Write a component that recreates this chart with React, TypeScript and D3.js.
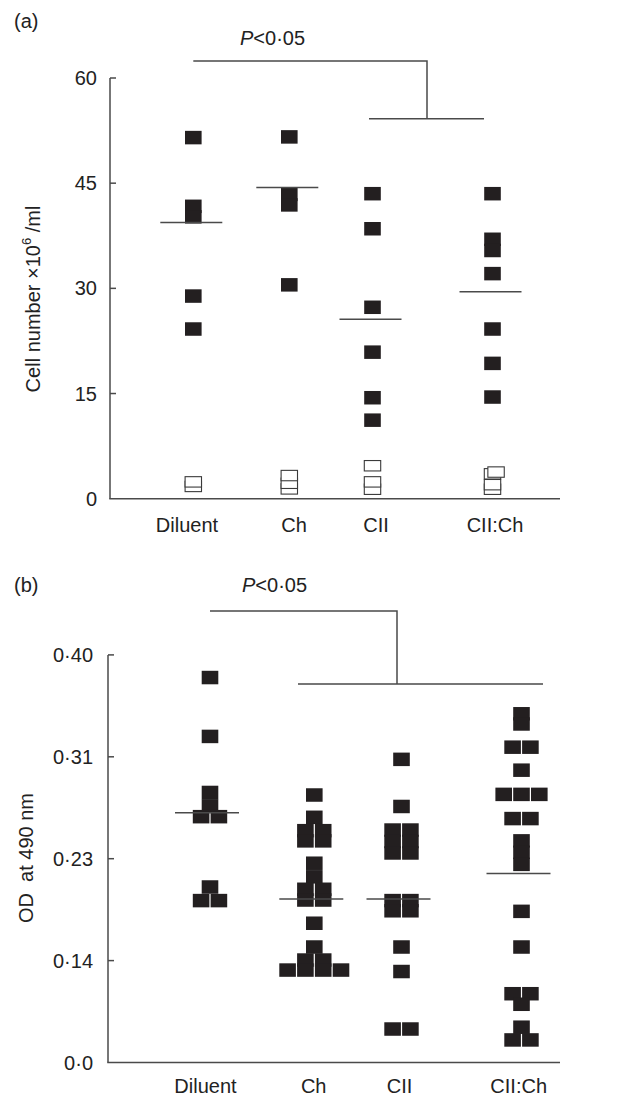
import * as d3 from 'd3';

// groups on both panels
const groups = ['Diluent', 'Ch', 'CII', 'CII:Ch'];

// (a) cell number x10^6/ml
const cellTicks = [0, 15, 30, 45, 60];
const cellFilled = [
  [51.5, 41.7, 40.2, 28.9, 24.2],
  [51.6, 43.4, 41.9, 30.5],
  [43.5, 38.5, 27.3, 20.9, 14.4, 11.2],
  [43.5, 37.0, 35.4, 32.1, 24.2, 19.3, 14.5],
];
const cellOpen = [
  [1.75, 2.4],
  [1.4, 2.2, 3.3],
  [1.35, 2.4, 4.7],
  [1.35, 2.0, 3.55, 3.8],
];
const cellOpenShift = [[0, 0], [0, 0, 0], [0, 0, 0], [0, 0, 0, 0.2]];
const cellMean = [39.4, 44.4, 25.6, 29.5];

// (b) OD at 490 nm
const odTicks = [0, 0.14, 0.23, 0.31, 0.4];
const odTickLabels = ['0·0', '0·14', '0·23', '0·31', '0·40'];
const odValues = [
  [0.38, 0.328, 0.282, 0.2715, 0.263, 0.263, 0.205, 0.193, 0.193],
  [0.28, 0.2625, 0.252, 0.252, 0.244, 0.244, 0.226, 0.214, 0.203, 0.203, 0.1935, 0.1935,
    0.173, 0.152, 0.1405, 0.1405, 0.127, 0.127, 0.127, 0.127],
  [0.308, 0.271, 0.2525, 0.2525, 0.2435, 0.2435, 0.2345, 0.2345, 0.193, 0.193, 0.184, 0.184,
    0.152, 0.125, 0.046, 0.046],
  [0.348, 0.339, 0.3185, 0.3185, 0.2995, 0.2805, 0.2805, 0.2805, 0.2615, 0.2615, 0.244, 0.235,
    0.225, 0.1835, 0.152, 0.0945, 0.0945, 0.08, 0.0485, 0.031, 0.031],
];
const odCols = [
  [0, 0, 0, 0, -0.5, 0.5, 0, -0.5, 0.5],
  [0, 0, -0.5, 0.5, -0.5, 0.5, 0, 0, -0.5, 0.5, -0.5, 0.5, 0, 0, -0.5, 0.5, -1.5, -0.5, 0.5, 1.5],
  [0, 0, -0.5, 0.5, -0.5, 0.5, -0.5, 0.5, -0.5, 0.5, -0.5, 0.5, 0, 0, -0.5, 0.5],
  [0, 0, -0.5, 0.5, 0, -1, 0, 1, -0.5, 0.5, 0, 0, 0, 0, 0, -0.5, 0.5, 0, 0, -0.5, 0.5],
];
const odMean = [0.266, 0.1945, 0.1945, 0.217];

const W = 621;
const H = 1098;
const FONT = '"Liberation Sans", Arial, Helvetica, sans-serif';
const INK = '#231f20';
const LINE = '#4a4a4a';
const SQ_W = 16.6;
const SQ_H = 13.5;
const COL = 17.8;
const OPEN_W = 16.4;
const OPEN_H = 10.4;
const FS = 20;

const YAxis = ({ y, ticks, labels, x0, x1, labelX }) => (
  <g>
    <line x1={x0} x2={x0} y1={y(ticks[ticks.length - 1])} y2={y(ticks[0])} stroke={LINE} strokeWidth={1.5} />
    <line x1={x0 - 0.75} x2={x1} y1={y(ticks[0])} y2={y(ticks[0])} stroke={LINE} strokeWidth={1.5} />
    {ticks.map((t, i) => (
      <g key={i}>
        {i > 0 && <line x1={x0} x2={x0 + 6} y1={y(t)} y2={y(t)} stroke={LINE} strokeWidth={1.5} />}
        <text x={labelX} y={y(t)} textAnchor="end" dominantBaseline="central" fontSize={FS} fill="#222">
          {labels[i]}
        </text>
      </g>
    ))}
  </g>
);

const Bracket = ({ xl, xv, yTop, yLow, lx0, lx1 }) => (
  <path
    d={`M${xl},${yTop}H${xv}V${yLow}M${lx0},${yLow}H${lx1}`}
    fill="none"
    stroke={LINE}
    strokeWidth={1.5}
  />
);

export default function App() {
  // panel (a)
  const xa = d3.scaleOrdinal<string, number>().domain(groups).range([193.3, 289.3, 372.5, 492.5]);
  const xaLabel = d3.scaleOrdinal<string, number>().domain(groups).range([187, 294, 376, 495]);
  const ya = d3.scaleLinear().domain([0, 60]).range([498.7, 78]);
  // panel (b): ticks are evenly spaced although their labels are not
  const yb0 = 1062.5;
  const ybStep = 101.9;
  const xb = d3.scaleOrdinal<string, number>().domain(groups).range([210, 314.3, 401.5, 521.5]);
  const xbLabel = d3.scaleOrdinal<string, number>().domain(groups).range([205.5, 313.7, 399.5, 518.7]);
  const yb = d3.scaleLinear().domain(odTicks).range(odTicks.map((_, i) => yb0 - i * ybStep));

  return (
    <svg width={W} height={H} style={{ position: 'absolute', left: 0, top: 0 }} fontFamily={FONT}>
      <rect width={W} height={H} fill="#fff" />

      {/* ---------- (a) ---------- */}
      <text x={14} y={28} fontSize={FS} fill="#222">(a)</text>
      <text x={240} y={45} fontSize={FS} fill="#222">
        <tspan fontStyle="italic">P</tspan>&lt;0·05
      </text>
      <Bracket xl={xa('Diluent')} xv={427} yTop={61} yLow={ya(54.2)} lx0={xa('CII') - 3.5} lx1={xa('CII:Ch') - 8.5} />
      <YAxis y={ya} ticks={cellTicks} labels={cellTicks.map(String)} x0={110} x1={560} labelX={97} />
      <text
        transform={`translate(33,299) rotate(-90)`}
        textAnchor="middle"
        dominantBaseline="central"
        fontSize={FS}
        fill="#222"
      >
        Cell number ×10<tspan dy={-7} fontSize={13}>6</tspan><tspan dy={7}> /ml</tspan>
      </text>
      {groups.map((g, gi) => (
        <g key={g}>
          {cellOpen[gi].map((v, i) => (
            <rect
              key={'o' + i}
              x={xa(g) + cellOpenShift[gi][i] * COL - OPEN_W / 2}
              y={ya(v) - OPEN_H / 2}
              width={OPEN_W}
              height={OPEN_H}
              fill="#fff"
              stroke="#3a3a3a"
              strokeWidth={1.1}
            />
          ))}
          {cellFilled[gi].map((v, i) => (
            <rect key={'f' + i} x={xa(g) - SQ_W / 2} y={ya(v) - SQ_H / 2} width={SQ_W} height={SQ_H} fill={INK} />
          ))}
          <line x1={xa(g) - 33} x2={xa(g) + 29} y1={ya(cellMean[gi])} y2={ya(cellMean[gi])} stroke={LINE} strokeWidth={1.5} />
          <text x={xaLabel(g)} y={532} textAnchor="middle" fontSize={FS} fill="#222">{g}</text>
        </g>
      ))}

      {/* ---------- (b) ---------- */}
      <text x={14} y={592} fontSize={FS} fill="#222">(b)</text>
      <text x={242} y={592} fontSize={FS} fill="#222">
        <tspan fontStyle="italic">P</tspan>&lt;0·05
      </text>
      <Bracket xl={xb('Diluent')} xv={397} yTop={611} yLow={684} lx0={298} lx1={543} />
      <YAxis y={yb} ticks={odTicks} labels={odTickLabels} x0={108} x1={560} labelX={93} />
      <text
        transform={`translate(26,858) rotate(-90)`}
        textAnchor="middle"
        dominantBaseline="central"
        fontSize={FS}
        fill="#222"
        style={{ whiteSpace: 'pre' }}
      >
        {'OD  at 490 nm'}
      </text>
      {groups.map((g, gi) => (
        <g key={g}>
          {odValues[gi].map((v, i) => (
            <rect
              key={i}
              x={xb(g) + odCols[gi][i] * COL - SQ_W / 2}
              y={yb(v) - SQ_H / 2}
              width={SQ_W}
              height={SQ_H}
              fill={INK}
            />
          ))}
          <line x1={xb(g) - 35} x2={xb(g) + 29} y1={yb(odMean[gi])} y2={yb(odMean[gi])} stroke={LINE} strokeWidth={1.5} />
          <text x={xbLabel(g)} y={1093} textAnchor="middle" fontSize={FS} fill="#222">{g}</text>
        </g>
      ))}
    </svg>
  );
}
